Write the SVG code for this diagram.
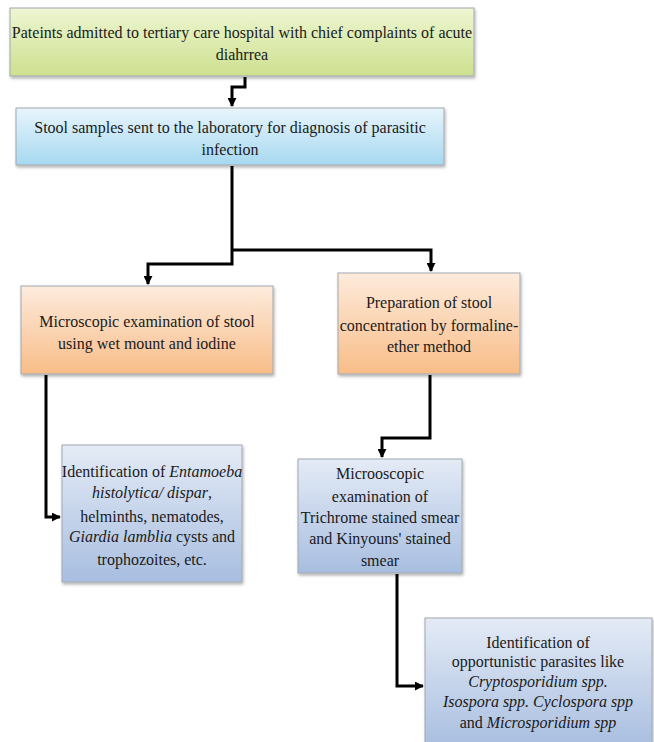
<svg xmlns="http://www.w3.org/2000/svg" width="654" height="742" viewBox="0 0 654 742">
<defs>
<linearGradient id="gGreen" x1="0" y1="0" x2="0" y2="1"><stop offset="0" stop-color="#eef6d2"/><stop offset="1" stop-color="#cde08e"/></linearGradient>
<linearGradient id="gSky" x1="0" y1="0" x2="0" y2="1"><stop offset="0" stop-color="#e8f5fc"/><stop offset="1" stop-color="#a6d8f0"/></linearGradient>
<linearGradient id="gOrange" x1="0" y1="0" x2="0" y2="1"><stop offset="0" stop-color="#fdebdc"/><stop offset="1" stop-color="#f8bd88"/></linearGradient>
<linearGradient id="gSteel" x1="0" y1="0" x2="0" y2="1"><stop offset="0" stop-color="#e4ebf6"/><stop offset="1" stop-color="#a8bee0"/></linearGradient>
<filter id="sh" x="-5%" y="-5%" width="110%" height="120%"><feDropShadow dx="1" dy="2" stdDeviation="1.5" flood-color="#000" flood-opacity="0.3"/></filter>
<marker id="ar" viewBox="0 0 10 10" refX="9" refY="5" markerWidth="3" markerHeight="3" orient="auto" markerUnits="strokeWidth"><path d="M0,0 L10,5 L0,10 z" fill="#000"/></marker>
</defs>
<style>
.box{stroke:#a0a8b0;stroke-width:1;filter:url(#sh)}
text{font-family:"Liberation Serif","DejaVu Serif",serif;font-size:16px;fill:#1a1a1a;text-anchor:middle}
.i{font-style:italic}
.c{fill:none;stroke:#000;stroke-width:3;marker-end:url(#ar)}
</style>
<rect width="654" height="742" fill="#fff"/>
<g id="connectors">
<path class="c" d="M245,77 V87 H232 V106"/>
<path class="c" d="M232,166 V264 H148 V284"/>
<path class="c" d="M232,250 H431 V271"/>
<path class="c" d="M46,375 V517 H60"/>
<path class="c" d="M430,375 V438 H382 V457"/>
<path class="c" d="M397,574 V686 H423"/>
</g>
<g id="n1"><rect class="box" x="10" y="8" width="464" height="68" fill="url(#gGreen)"/>
<text x="242" y="38">Pateints admitted to tertiary care hospital with chief complaints of acute</text>
<text x="242" y="60">diahrrea</text></g>
<g id="n2"><rect class="box" x="16" y="108" width="428" height="57" fill="url(#gSky)"/>
<text x="230" y="133">Stool samples sent to the laboratory for diagnosis of parasitic</text>
<text x="230" y="155">infection</text></g>
<g id="n3"><rect class="box" x="21" y="286" width="252" height="88" fill="url(#gOrange)"/>
<text x="147" y="327">Microscopic examination of stool</text>
<text x="147" y="349">using wet mount and iodine</text></g>
<g id="n4"><rect class="box" x="338" y="273" width="182" height="101" fill="url(#gOrange)"/>
<text x="429" y="308">Preparation of stool</text>
<text x="429" y="331">concentration by formaline-</text>
<text x="429" y="352">ether method</text></g>
<g id="n5"><rect class="box" x="62" y="445" width="180" height="137" fill="url(#gSteel)"/>
<text x="152" y="477">Identification of <tspan class="i">Entamoeba</tspan></text>
<text x="152" y="498"><tspan class="i">histolytica/ dispar</tspan>,</text>
<text x="152" y="522">helminths, nematodes,</text>
<text x="152" y="542"><tspan class="i">Giardia lamblia</tspan>  cysts and</text>
<text x="152" y="565">trophozoites, etc.</text></g>
<g id="n6"><rect class="box" x="298" y="459" width="164" height="114" fill="url(#gSteel)"/>
<text x="380" y="479">Microoscopic</text>
<text x="380" y="502">examination of</text>
<text x="380" y="523">Trichrome stained smear</text>
<text x="380" y="544">and Kinyouns' stained</text>
<text x="380" y="566">smear</text></g>
<g id="n7"><rect class="box" x="425" y="618" width="227" height="130" fill="url(#gSteel)"/>
<text x="538" y="648">Identification of</text>
<text x="538" y="667">opportunistic parasites like</text>
<text x="538" y="687" class="i">Cryptosporidium spp.</text>
<text x="538" y="707" class="i">Isospora spp. Cyclospora spp</text>
<text x="538" y="728">and <tspan class="i">Microsporidium  spp</tspan></text></g>
</svg>
